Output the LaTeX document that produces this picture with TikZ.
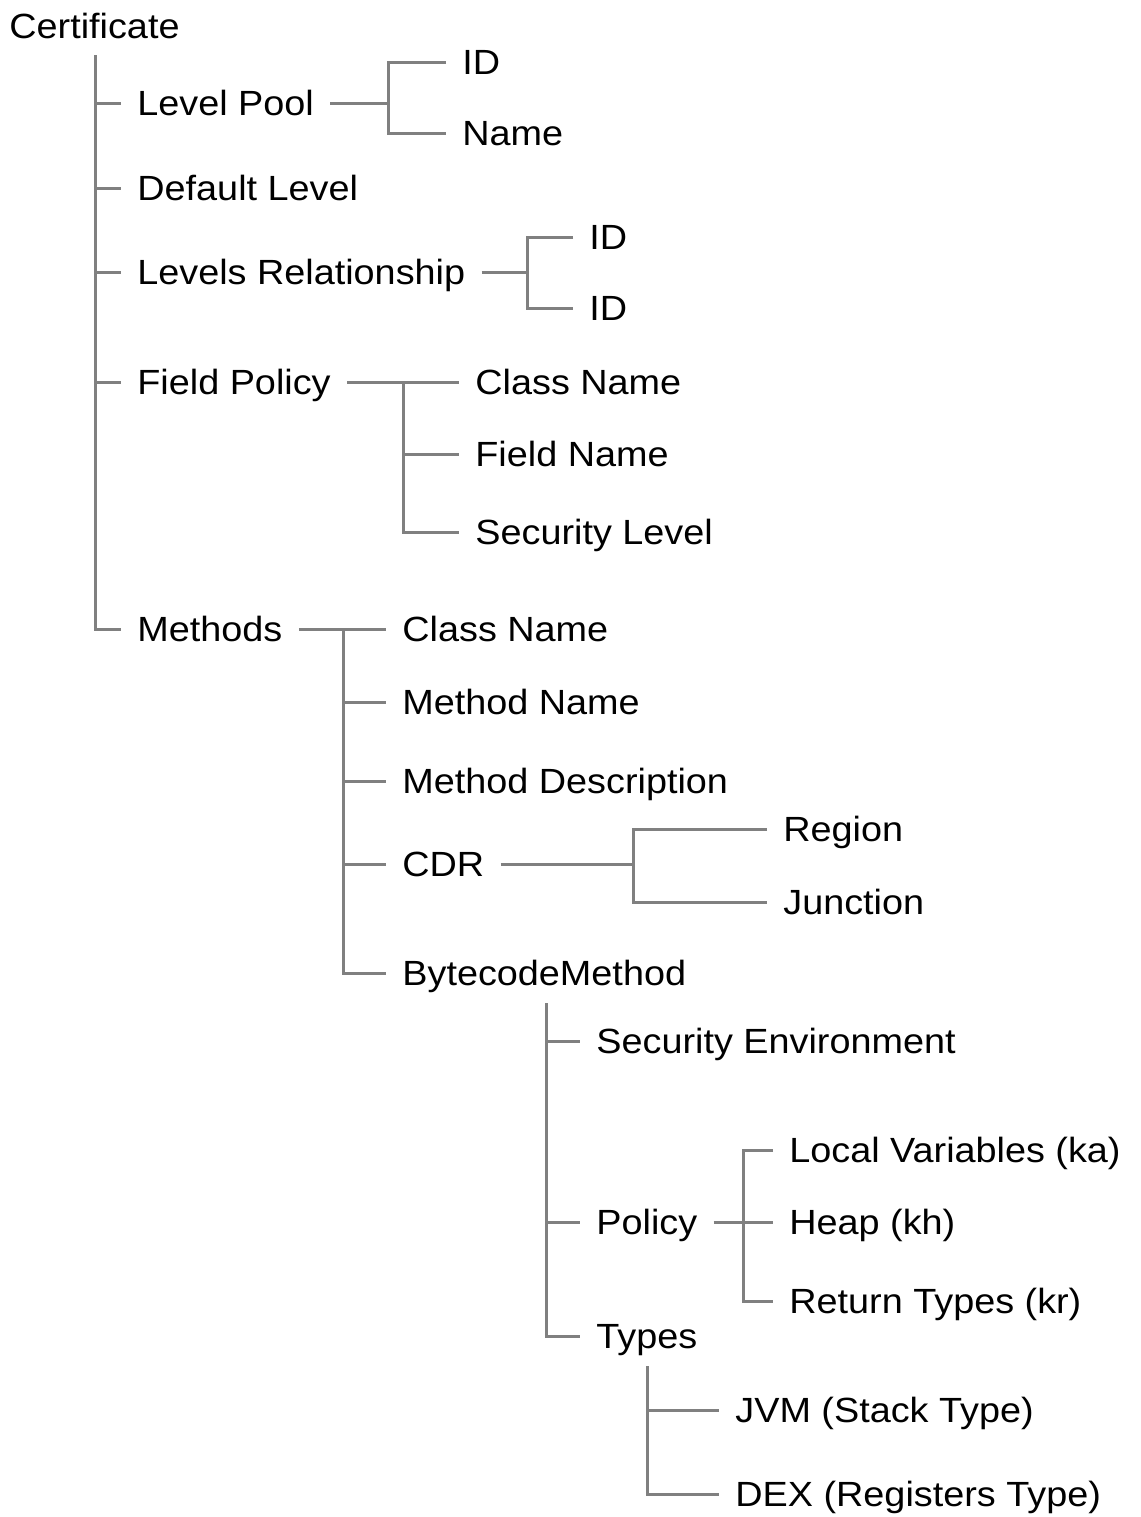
\documentclass[tikz,border=0pt]{standalone}
\usepackage{fontspec}
\setmainfont{Liberation Sans}[FakeStretch=1.08]
\usepackage{tikz}
\usetikzlibrary{positioning}
\definecolor{treegray}{HTML}{808080}
\tikzset{
  itemnode/.style={anchor=west,inner xsep=8pt,inner ysep=0pt,text height=12.5pt,text depth=0pt,font=\fontsize{17.5pt}{21pt}\selectfont},
  rootnode/.style={itemnode},
  branch/.style={treegray,line width=1.5pt},
}

\begin{document}
\begin{tikzpicture}[x=0.5pt,y=-0.5pt]
  \useasboundingbox (0,0) rectangle (1141,1517);
  \node[rootnode] (nCert) at (-7,26) {Certificate};
  % first level
  \node[itemnode] (nLP) at (121,103) {Level Pool};
  \node[itemnode] (nDL) at (121,188) {Default Level};
  \node[itemnode] (nLR) at (121,272) {Levels Relationship};
  \node[itemnode] (nFP) at (121,382) {Field Policy};
  \node[itemnode] (nMe) at (121,629) {Methods};
  \node[itemnode] (nLPid) at (446,62) {ID};
  \node[itemnode] (nLPname) at (446,133) {Name};
  \node[itemnode] (nLRa) at (573,237) {ID};
  \node[itemnode] (nLRb) at (573,308) {ID};
  \node[itemnode] (nFPcls) at (459,382) {Class Name};
  \node[itemnode] (nFPfld) at (459,454) {Field Name};
  \node[itemnode] (nFPsec) at (459,532) {Security Level};
  % methods
  \node[itemnode] (nMcls) at (386,629) {Class Name};
  \node[itemnode] (nMname) at (386,702) {Method Name};
  \node[itemnode] (nMdesc) at (386,781) {Method Description};
  \node[itemnode] (nCDR) at (386,864) {CDR};
  \node[itemnode] (nBM) at (386,973) {BytecodeMethod};
  \node[itemnode] (nReg) at (767,829) {Region};
  \node[itemnode] (nJun) at (767,902) {Junction};
  \node[itemnode] (nSE) at (580,1041) {Security Environment};
  \node[itemnode] (nPol) at (580,1222) {Policy};
  \node[itemnode] (nTy) at (580,1336) {Types};
  \node[itemnode] (nLV) at (773,1150) {Local Variables (ka)};
  \node[itemnode] (nHeap) at (773,1222) {Heap (kh)};
  \node[itemnode] (nRT) at (773,1301) {Return Types (kr)};
  \node[itemnode] (nJVM) at (719,1410) {JVM (Stack Type)};
  \node[itemnode] (nDEX) at (719,1494) {DEX (Registers Type)};
  % junctions
  \coordinate (tCert) at (95,55);
  \coordinate (jLP) at (388,103);
  \coordinate (jLR) at (527,272);
  \coordinate (jFP) at (403,382);
  \coordinate (jMe) at (343,629);
  \coordinate (jCDR) at (633,864);
  \coordinate (tBM) at (546,1003);
  \coordinate (jPol) at (743,1222);
  \coordinate (tTy) at (647,1366);
  \foreach \n in {nLP,nDL,nLR,nFP,nMe}
    \draw[branch] (tCert) |- (\n.west);
  \draw[branch] (nLP.east) -- (jLP);
  \draw[branch] (nLPid.west) -| (jLP) |- (nLPname.west);
  \draw[branch] (nLR.east) -- (jLR);
  \draw[branch] (nLRa.west) -| (jLR) |- (nLRb.west);
  \draw[branch] (nFP.east) -- (nFPcls.west);
  \draw[branch] (jFP) |- (nFPfld.west);
  \draw[branch] (jFP) |- (nFPsec.west);
  \draw[branch] (nMe.east) -- (nMcls.west);
  \foreach \n in {nMname,nMdesc,nCDR,nBM}
    \draw[branch] (jMe) |- (\n.west);
  \draw[branch] (nCDR.east) -- (jCDR);
  \draw[branch] (nReg.west) -| (jCDR) |- (nJun.west);
  \foreach \n in {nSE,nPol,nTy}
    \draw[branch] (tBM) |- (\n.west);
  \draw[branch] (nPol.east) -- (nHeap.west);
  \draw[branch] (nLV.west) -| (jPol) |- (nRT.west);
  \foreach \n in {nJVM,nDEX}
    \draw[branch] (tTy) |- (\n.west);
\end{tikzpicture}
\end{document}
